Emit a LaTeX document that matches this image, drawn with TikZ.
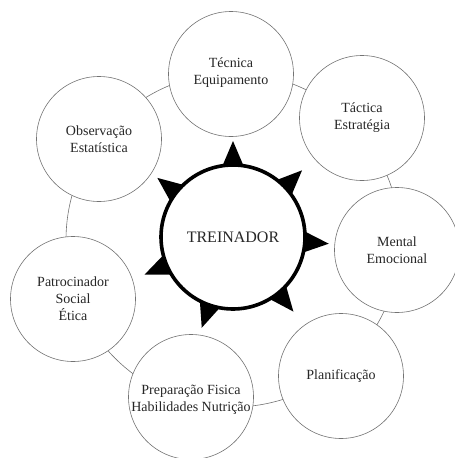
\documentclass[tikz,border=0pt]{standalone}
\usepackage{fontspec}
\setmainfont{Liberation Serif}
\usetikzlibrary{calc}
\tikzset{
  ring/.style={circle, draw=black!55, line width=0.6pt, fill=white, minimum size=125pt, inner sep=0pt},
  lbl/.style={align=center, font=\fontsize{14}{17}\selectfont, text=black!85, inner sep=0pt},
  conn/.style={draw=black!55, line width=0.6pt},
  hubring/.style={circle, draw=black, line width=3.6pt, fill=white, minimum size=144pt, inner sep=0pt,
    font=\fontsize{16}{19}\selectfont, text=black!85},
}
\begin{document}
\begin{tikzpicture}[x=1pt,y=-1pt]
\useasboundingbox (0,0) rectangle (455,458);
\begin{scope}
\clip (0,0) rectangle (455,458);
% connecting ring (seen between the circles)
\coordinate (ringc) at (233,240);
\draw[conn] (ringc) circle[radius=167];
% outer circles
\node[ring] (tec) at (231,74) {};
\node[ring] (tac) at (362,118) {};
\node[ring] (men) at (397,250) {};
\node[ring] (pla) at (341,376) {};
\node[ring] (pre) at (191,397) {};
\node[ring] (pat) at (73,299) {};
\node[ring] (obs) at (99,139) {};
% labels
\node[lbl] (tecl) at (231,73) {Técnica\\Equipamento};
\node[lbl] (tacl) at (362,118) {Táctica\\Estratégia};
\node[lbl] (menl) at (397,250) {Mental\\Emocional};
\node[lbl] (plal) at (341,376) {Planificação};
\node[lbl] (prel) at (191,400) {Preparação Fisica\\Habilidades Nutrição};
\node[lbl] (patl) at (73,299) {Patrocinador\\Social\\Ética};
\node[lbl] (obsl) at (99,139) {Observação\\Estatística};
% spikes
\coordinate (c) at (233,237);
\foreach \a in {-90,-44,4,51,109,157,-142}{
  \fill ($(c)+(\a:96)$) .. controls ($(c)+(\a+4:82)$) .. ($(c)+(\a+10.5:68)$)
     -- ($(c)+(\a-10.5:68)$) .. controls ($(c)+(\a-4:82)$) .. cycle;
}
\node[hubring] (hub) at (c) {TREINADOR};
\end{scope}
\end{tikzpicture}
\end{document}
